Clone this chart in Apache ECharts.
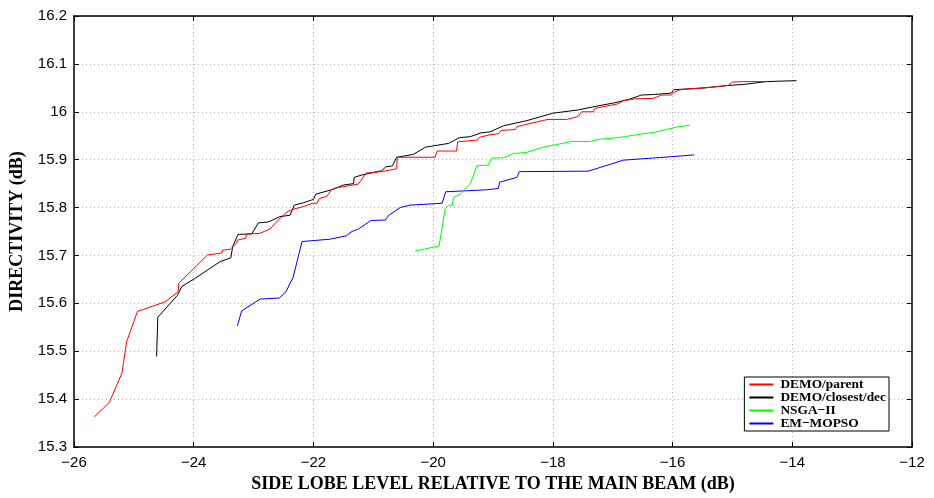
<!DOCTYPE html>
<html>
<head>
<meta charset="utf-8">
<script src="https://cdn.jsdelivr.net/npm/echarts@6/dist/echarts.min.js"></script>
<style>
  html, body { margin: 0; padding: 0; background: #fff; }
  #chart { width: 934px; height: 498px; }
</style>
</head>
<body>
<div id="chart"></div>
<script>
// series names
var seriesNames = ["DEMO/parent", "DEMO/closest/dec", "NSGA\u2212II", "EM\u2212MOPSO"];

// DEMO/parent
var parentX = [-25.66, -25.41, -25.20, -25.12, -24.94, -24.48, -24.26, -24.25, -23.77, -23.53, -23.52, -23.39,
    -23.28, -23.27, -23.13, -23.12, -22.90, -22.73, -22.53, -22.44, -22.35, -22.17, -22.01, -21.94, -21.90,
    -21.78, -21.70, -21.66, -21.25, -21.12, -20.86, -20.85, -20.61, -20.60, -19.97, -19.93, -19.61, -19.59,
    -19.27, -19.22, -19.05, -18.91, -18.86, -18.63, -18.60, -18.16, -18.08, -17.77, -17.58, -17.52, -17.32,
    -17.30, -16.93, -16.82, -16.63, -16.32, -16.18, -16.02, -15.98, -15.88, -15.46, -15.07, -15.00, -14.82, -14.43];
var parentY = [15.363, 15.393, 15.454, 15.520, 15.583, 15.603, 15.624, 15.642, 15.701, 15.705, 15.711, 15.713,
    15.726, 15.732, 15.736, 15.745, 15.746, 15.755, 15.781, 15.791, 15.796, 15.802, 15.809, 15.809, 15.819,
    15.823, 15.837, 15.840, 15.849, 15.872, 15.875, 15.877, 15.881, 15.905, 15.905, 15.918, 15.918, 15.937,
    15.941, 15.947, 15.952, 15.954, 15.961, 15.963, 15.969, 15.982, 15.984, 15.984, 15.990, 16.000, 16.000,
    16.007, 16.016, 16.023, 16.027, 16.028, 16.035, 16.035, 16.040, 16.046, 16.050, 16.055, 16.062, 16.063, 16.063];

// DEMO/closest/dec
var closestX = [-24.62, -24.60, -24.27, -24.20, -23.98, -23.56, -23.38, -23.35, -23.26, -23.03, -22.92, -22.75,
    -22.56, -22.39, -22.32, -22.17, -22.00, -21.96, -21.67, -21.50, -21.33, -21.32, -21.19, -20.86, -20.79,
    -20.68, -20.61, -20.33, -20.13, -19.74, -19.56, -19.38, -19.20, -19.05, -18.82, -18.45, -18.00, -17.57,
    -17.34, -16.96, -16.70, -16.52, -16.32, -16.02, -15.98, -15.46, -15.07, -14.82, -14.79, -14.43, -13.93];
var closestY = [15.489, 15.571, 15.617, 15.635, 15.652, 15.687, 15.695, 15.718, 15.744, 15.745, 15.768, 15.770,
    15.781, 15.784, 15.805, 15.810, 15.817, 15.828, 15.838, 15.847, 15.850, 15.863, 15.868, 15.877, 15.885,
    15.887, 15.905, 15.911, 15.926, 15.934, 15.946, 15.948, 15.956, 15.958, 15.971, 15.981, 15.997, 16.004,
    16.010, 16.019, 16.027, 16.035, 16.036, 16.039, 16.046, 16.050, 16.055, 16.057, 16.061, 16.063, 16.065];

// NSGA-II
var nsgaX = [-20.30, -19.90, -19.80, -19.74, -19.68, -19.66, -19.55, -19.38, -19.27, -19.08, -19.02, -18.82,
    -18.66, -18.44, -18.16, -17.88, -17.69, -17.38, -17.21, -16.99, -16.80, -16.60, -16.27, -16.10, -15.93, -15.71];
var nsgaY = [15.709, 15.720, 15.798, 15.805, 15.805, 15.821, 15.828, 15.849, 15.887, 15.889, 15.903, 15.904,
    15.913, 15.915, 15.926, 15.933, 15.938, 15.938, 15.943, 15.945, 15.948, 15.952, 15.958, 15.963, 15.968, 15.972];

// EM-MOPSO
var mopsoX = [-23.27, -23.20, -22.89, -22.57, -22.46, -22.34, -22.19, -21.72, -21.45, -21.36, -21.25, -21.04,
    -20.80, -20.74, -20.55, -20.39, -19.85, -19.79, -19.11, -18.91, -18.89, -18.60, -18.56, -17.41, -16.82,
    -16.04, -15.64];
var mopsoY = [15.553, 15.584, 15.609, 15.611, 15.624, 15.654, 15.729, 15.734, 15.741, 15.750, 15.755, 15.773,
    15.774, 15.784, 15.800, 15.805, 15.809, 15.833, 15.837, 15.840, 15.853, 15.863, 15.875, 15.876, 15.899,
    15.906, 15.910];

var seriesColors = ["#ff0000", "#000000", "#00ff00", "#0000ff"];

// axis ticks
var xTicks = [-26, -24, -22, -20, -18, -16, -14, -12];
var yTicks = [15.3, 15.4, 15.5, 15.6, 15.7, 15.8, 15.9, 16, 16.1, 16.2];

function zip(xs, ys) {
    return xs.map(function(x, i) { return [x, ys[i]]; });
}

var allData = [zip(parentX, parentY), zip(closestX, closestY), zip(nsgaX, nsgaY), zip(mopsoX, mopsoY)];

function fmtX(v) {
    return String(v).replace("-", "\u2212");
}

var gridLine = { show: true, lineStyle: { color: "#b0b0b0", type: [1, 3], width: 1 } };
var frameLine = { show: true, onZero: false, lineStyle: { color: "#000", width: 1.5 } };
var tickIn = { show: true, inside: true, length: 5, lineStyle: { color: "#000", width: 1 } };

var option = {
    animation: false,
    backgroundColor: "#fff",
    grid: { left: 74, right: 22, top: 16, bottom: 51, containLabel: false, outerBoundsMode: "none" },
    xAxis: [
        {
            type: "value", min: xTicks[0], max: xTicks[xTicks.length - 1], interval: 2,
            axisLine: frameLine, axisTick: tickIn, splitLine: gridLine,
            axisLabel: {
                color: "#000", fontFamily: "Liberation Sans", fontSize: 15, margin: 8,
                formatter: fmtX
            },
            name: "SIDE LOBE LEVEL RELATIVE TO THE MAIN BEAM (dB)",
            nameLocation: "middle", nameGap: 28,
            nameTextStyle: { color: "#000", fontFamily: "Liberation Serif", fontWeight: "bold", fontSize: 18 }
        },
        {
            type: "value", position: "top", min: xTicks[0], max: xTicks[xTicks.length - 1], interval: 2,
            axisLine: frameLine, axisTick: tickIn, splitLine: { show: false }, axisLabel: { show: false }
        }
    ],
    yAxis: [
        {
            type: "value", min: yTicks[0], max: yTicks[yTicks.length - 1], interval: 0.1,
            axisLine: frameLine, axisTick: tickIn, splitLine: gridLine,
            axisLabel: {
                color: "#000", fontFamily: "Liberation Sans", fontSize: 15, margin: 7,
                formatter: function(v) { return String(Math.round(v * 10) / 10); }
            },
            name: "DIRECTIVITY (dB)",
            nameLocation: "middle", nameGap: 48,
            nameTextStyle: { color: "#000", fontFamily: "Liberation Serif", fontWeight: "bold", fontSize: 18 }
        },
        {
            type: "value", position: "right", min: yTicks[0], max: yTicks[yTicks.length - 1], interval: 0.1,
            axisLine: frameLine, axisTick: tickIn, splitLine: { show: false }, axisLabel: { show: false }
        }
    ],
    legend: {
        orient: "vertical",
        right: 45,
        bottom: 67,
        backgroundColor: "#fff",
        borderColor: "#000",
        borderWidth: 1,
        padding: [1, 3, 1, 5],
        itemGap: 0,
        itemWidth: 24,
        itemHeight: 2,
        icon: "rect",
        textStyle: {
            color: "#000", fontFamily: "Liberation Serif", fontWeight: "bold", fontSize: 13.4,
            lineHeight: 11, height: 11, padding: [0, 0, 0, 2]
        },
        data: seriesNames
    },
    series: seriesNames.map(function(name, i) {
        return {
            name: name,
            type: "line",
            data: allData[i],
            showSymbol: false,
            symbol: "none",
            color: seriesColors[i],
            lineStyle: { width: 1, color: seriesColors[i] },
            z: 10 - i
        };
    })
};

echarts.init(document.getElementById("chart")).setOption(option);
</script>
</body>
</html>
